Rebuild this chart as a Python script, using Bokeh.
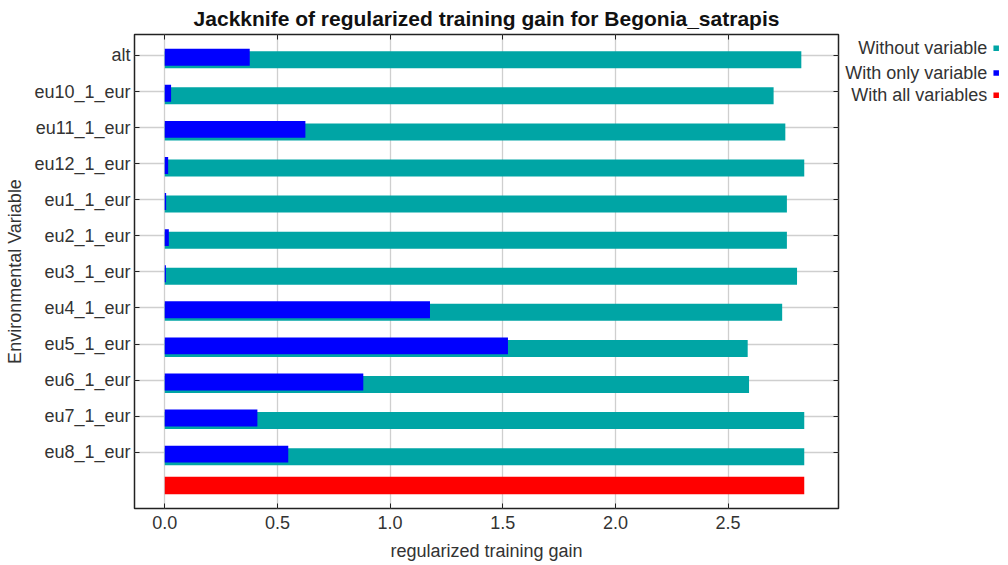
from bokeh.plotting import figure
from bokeh.models import (Range1d, LinearAxis, FixedTicker, ColumnDataSource, Title,
                          NumeralTickFormatter)
from bokeh.layouts import row
from bokeh.core.properties import value
from bokeh.embed import file_html
from bokeh.resources import INLINE

# ---- data ----
variables = ["alt", "eu10_1_eur", "eu11_1_eur", "eu12_1_eur", "eu1_1_eur", "eu2_1_eur",
             "eu3_1_eur", "eu4_1_eur", "eu5_1_eur", "eu6_1_eur", "eu7_1_eur", "eu8_1_eur"]
without_variable = [2.825, 2.702, 2.754, 2.838, 2.761, 2.761, 2.806, 2.740, 2.587, 2.593, 2.838, 2.838]
with_only_variable = [0.377, 0.028, 0.624, 0.015, 0.006, 0.018, 0.005, 1.177, 1.523, 0.881, 0.411, 0.548]
with_all_variables = 2.838
x_ticks = [0.0, 0.5, 1.0, 1.5, 2.0, 2.5]
legend_labels = ["Without variable", "With only variable", "With all variables"]
colors = ["#00A5A5", "#0000FF", "#FF0000"]

FONT = "Liberation Sans"
TXT = "#333333"
FS = "18px"

n = len(variables)
ypos = [n - i for i in range(n)]           # alt at top
tick_map = {y: v for y, v in zip(ypos, variables)}

H = 564
W_MAIN = 842
FR_TOP, FR_BOTTOM = 33, 508
p = figure(width=W_MAIN, height=H, output_backend="svg", toolbar_location=None,
           x_range=Range1d(-0.1344, 2.990), y_range=Range1d(-0.557, 12.58),
           x_axis_location=None, y_axis_location=None,
           min_border_left=134, min_border_right=W_MAIN - 838, min_border_top=FR_TOP,
           min_border_bottom=H - FR_BOTTOM)
p.background_fill_color = "white"
p.border_fill_color = "white"
p.outline_line_color = "#222222"
p.outline_line_width = 1.5

p.title = Title(text="Jackknife of regularized training gain for Begonia_satrapis",
                align="center", text_font=FONT, text_font_size="21px",
                text_font_style="bold", text_color="#111111", standoff=9)

def style_axis(ax):
    ax.axis_line_color = None
    ax.major_tick_in = 5
    ax.major_tick_out = 0
    ax.major_tick_line_color = "#222222"
    ax.minor_tick_line_color = None
    ax.major_label_text_font = FONT
    ax.major_label_text_font_size = FS
    ax.major_label_text_color = TXT
    ax.axis_label_text_font = FONT
    ax.axis_label_text_font_size = FS
    ax.axis_label_text_font_style = "normal"
    ax.axis_label_text_color = TXT

xb = LinearAxis(ticker=FixedTicker(ticks=x_ticks), axis_label="regularized training gain",
                formatter=NumeralTickFormatter(format="0.0"))
style_axis(xb)
xb.major_label_standoff = 7
xb.axis_label_standoff = 9
p.add_layout(xb, "below")

xt = LinearAxis(ticker=FixedTicker(ticks=x_ticks),
                major_label_overrides={t: "" for t in x_ticks})
style_axis(xt)
xt.major_label_text_font_size = "0px"
xt.major_label_standoff = 0
p.add_layout(xt, "above")

yl = LinearAxis(ticker=FixedTicker(ticks=ypos), major_label_overrides=tick_map,
                axis_label="Environmental Variable")
style_axis(yl)
yl.major_label_standoff = 4
yl.axis_label_standoff = 6
p.add_layout(yl, "left")

yr = LinearAxis(ticker=FixedTicker(ticks=ypos),
                major_label_overrides={y: "" for y in ypos})
style_axis(yr)
yr.major_label_text_font_size = "0px"
yr.major_label_standoff = 0
p.add_layout(yr, "right")

p.xgrid.ticker = FixedTicker(ticks=x_ticks)
p.ygrid.ticker = FixedTicker(ticks=ypos)
for g in (p.xgrid, p.ygrid):
    g.grid_line_color = "#CFCFCF"
    g.grid_line_width = 1.3

src = ColumnDataSource(dict(
    y_without=[y - 0.12 for y in ypos],
    y_only=[y - 0.05 for y in ypos],
    without=without_variable, only=with_only_variable))
p.hbar(y="y_without", left=0, right="without", height=0.47, source=src,
       fill_color=colors[0], line_color=None)
p.hbar(y="y_only", left=0, right="only", height=0.47, source=src,
       fill_color=colors[1], line_color=None)
p.hbar(y=[0.08], left=0, right=[with_all_variables], height=0.48,
       fill_color=colors[2], line_color=None)

# ---- legend panel (text right-aligned, colour square on the right) ----
# its frame is aligned with the main frame, so use page-pixel coordinates of that span
W_LEG = 1008 - W_MAIN
leg = figure(width=W_LEG, height=H, output_backend="svg", toolbar_location=None,
             title=None,
             x_range=Range1d(0, W_LEG), y_range=Range1d(FR_BOTTOM, FR_TOP),
             x_axis_location=None, y_axis_location=None,
             min_border=0, min_border_left=0, min_border_right=0,
             min_border_top=FR_TOP, min_border_bottom=H - FR_BOTTOM)
leg.outline_line_color = None
leg.grid.visible = False
leg.background_fill_color = "white"
leg.border_fill_color = "white"
leg_src = ColumnDataSource(dict(label=legend_labels, color=colors,
                                ty=[46.7, 71.7, 94.0]))
leg.text(x=986.7 - W_MAIN, y="ty", text="label", source=leg_src, text_align="right",
         text_baseline="middle", text_font=value(FONT), text_font_size=FS, text_color=TXT)
leg.scatter(x=995.7 - W_MAIN, y="ty", marker="square", size=5.5, fill_color="color",
            line_color=None, source=leg_src)

layout = row(p, leg, spacing=0)
open("out.html", "w").write(file_html(layout, INLINE))
